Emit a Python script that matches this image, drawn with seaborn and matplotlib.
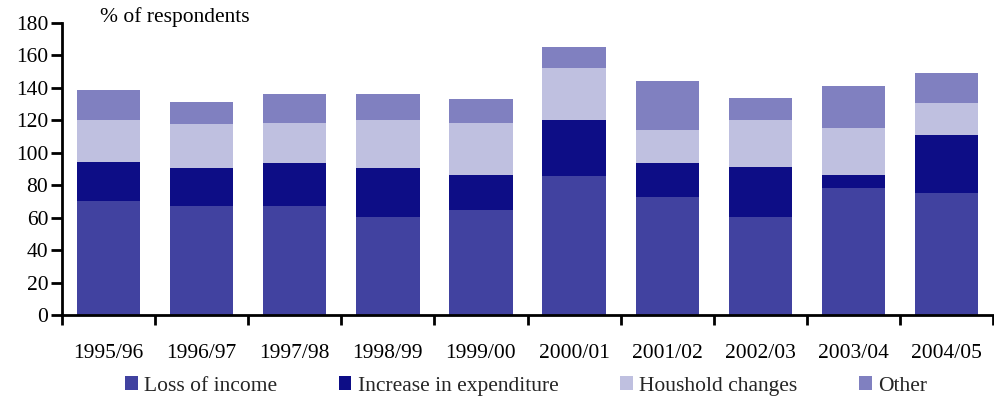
import numpy as np
import pandas as pd
import matplotlib
matplotlib.use("Agg")
import matplotlib.pyplot as plt
from matplotlib.patches import Patch
import seaborn as sns

years = ["1995/96", "1996/97", "1997/98", "1998/99", "1999/00",
         "2000/01", "2001/02", "2002/03", "2003/04", "2004/05"]
loss_of_income = [70.5, 67.5, 67.5, 60.5, 64.5, 85.5, 73.0, 60.5, 78.5, 75.0]
increase_in_expenditure = [24.0, 23.0, 26.0, 30.0, 22.0, 35.0, 20.5, 31.0, 8.0, 36.0]
household_changes = [26.0, 27.0, 25.0, 30.0, 32.0, 31.5, 20.5, 29.0, 29.0, 20.0]
other = [18.5, 14.0, 17.5, 16.0, 14.5, 13.0, 30.0, 13.0, 25.5, 18.0]

series_names = ["Loss of income", "Increase in expenditure", "Houshold changes", "Other"]
colors = ["#4142A0", "#0D0D86", "#BFC0E0", "#8080C0"]

df = pd.DataFrame({
    "year": years,
    series_names[0]: loss_of_income,
    series_names[1]: increase_in_expenditure,
    series_names[2]: household_changes,
    series_names[3]: other,
})

sns.set_theme(style="white")
plt.rcParams["font.family"] = ["Liberation Serif", "DejaVu Serif"]

fig = plt.figure(figsize=(9.94, 3.97), dpi=100)
ax = fig.add_axes([0.0624, 0.2065, 0.9366, 0.7355])

# Stacked bars: draw cumulative totals from the top layer down
cum = df[series_names].cumsum(axis=1)
for name, color in reversed(list(zip(series_names, colors))):
    sns.barplot(x=df["year"], y=cum[name], color=color, width=0.68,
                linewidth=0, saturation=1, ax=ax, order=years)

ax.set_xlim(-0.5, len(years) - 0.5)
ax.set_ylim(0, 180)
ax.set_yticks(np.arange(0, 181, 20))
ax.set_xlabel("")
ax.set_ylabel("")

for s in ["top", "right"]:
    ax.spines[s].set_visible(False)
for s in ["left", "bottom"]:
    ax.spines[s].set_color("black")
    ax.spines[s].set_linewidth(2)

ax.tick_params(axis="y", which="major", direction="out", length=8, width=2,
               color="black", labelsize=15.5, pad=2, left=True)
ax.tick_params(axis="x", which="major", length=0, labelsize=15.5, pad=21)
ax.set_xticks(np.arange(-0.5, len(years), 1.0), minor=True)
ax.tick_params(axis="x", which="minor", direction="out", length=7, width=2,
               color="black", bottom=True)
for lbl in ax.get_xticklabels() + ax.get_yticklabels():
    lbl.set_color("black")

fig.text(100 / 994, 1 - 17 / 397, "% of respondents", fontsize=15.5,
         color="black", va="center", ha="left")

handles = [Patch(facecolor=c, edgecolor="none", label=n)
           for n, c in zip(series_names, colors)]
fig.legend(handles=handles, loc="center",
           bbox_to_anchor=(526 / 994, 1 - 386 / 397),
           ncol=4, frameon=False, fontsize=15.5, handlelength=0.6,
           handleheight=0.6, handletextpad=0.3, columnspacing=2.85,
           borderaxespad=0, borderpad=0)

fig.savefig("out.png", dpi=100)
